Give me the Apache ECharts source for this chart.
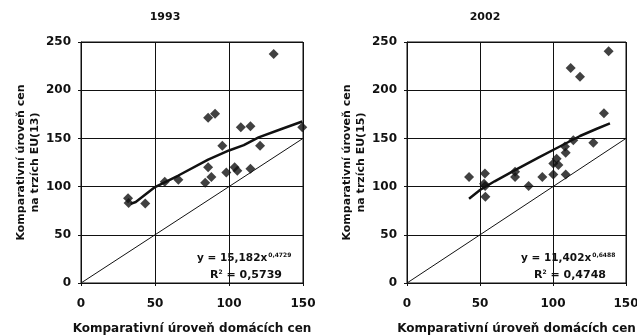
<!DOCTYPE html>
<html>
<head>
<meta charset="utf-8">
<script src="https://cdn.jsdelivr.net/npm/echarts@6/dist/echarts.min.js"></script>
<style>
  html, body { margin: 0; padding: 0; background: #fff; }
  #chart { width: 637px; height: 336px; }
</style>
</head>
<body>
<div id="chart"></div>
<script>
// 1993 - body [domácí ceny, ceny EU(13)]
var points1993 = [
  [31.8, 88], [32.2, 83], [43.4, 82.5], [56.6, 105], [65.8, 107],
  [83.9, 104], [85.9, 120], [88.1, 110], [85.9, 171.5], [90.6, 175.5],
  [95.5, 142.5], [98.2, 114.5], [103.8, 120], [105.6, 116.5], [108, 161.5],
  [114.5, 162.5], [114.5, 118.5], [121, 142.5], [130.2, 237.5], [149.5, 161.5]
]
// trend 1993
var trend1993 = [
  [33.5, 82], [37, 84], [50, 99.5], [65.8, 111.5], [85.9, 128],
  [100, 137.5], [110, 143], [120, 151], [135, 159.5], [149.5, 167.5]
]

// 2002 - body [domácí ceny, ceny EU(15)]
var points2002 = [
  [42.5, 110], [53.4, 113.5], [52.8, 103], [53.5, 100.5], [53.7, 89.5],
  [74, 115.5], [74, 110], [83.3, 100.5], [92.7, 110], [100.2, 112.5],
  [100.2, 124], [102.5, 129], [103.7, 122.5], [108.7, 112.5], [108.7, 135],
  [108.2, 141.5], [113.9, 148], [112.1, 223], [118.5, 214], [127.6, 145.5],
  [134.9, 176], [138.1, 240.5]
]
var trend2002 = [
  [42.5, 87.5], [50, 96.5], [60, 105.5], [74, 117], [90, 130],
  [100.7, 138.5], [118.5, 152.5], [130, 160], [139, 165.5]
]

var diagonal = [[0, 0], [150, 150]]

var titles = ['1993', '2002']
var yNames = ['Komparativní úroveň cen\nna trzích EU(13)', 'Komparativní úroveň cen\nna trzích EU(15)']
var xName = 'Komparativní úroveň domácích cen'
var eqs = [['15,182x', '0,4729', '0,5739'], ['11,402x', '0,6488', '0,4748']]

var font = 'DejaVu Sans'
var myChart = echarts.init(document.getElementById('chart'))

var grids = [
  { left: 81, width: 222, top: 42, height: 241 },
  { left: 407, width: 219, top: 42, height: 241 }
]

function xAxis (i) {
  return {
    type: 'value', gridIndex: i, min: 0, max: 150, interval: 50,
    name: xName, nameLocation: 'middle', nameGap: 40,
    nameTextStyle: { fontFamily: font, fontWeight: 'bold', fontSize: 12, color: '#111' },
    axisLine: { show: true, onZero: false, lineStyle: { color: '#111', width: 1 } },
    axisTick: { show: true, length: 3, lineStyle: { color: '#111' } },
    axisLabel: { fontFamily: font, fontWeight: 'bold', fontSize: 12, color: '#111', margin: 15 },
    splitLine: { show: true, lineStyle: { color: '#111', width: 1 } }
  }
}
function yAxis (i) {
  return {
    type: 'value', gridIndex: i, min: 0, max: 250, interval: 50,
    name: yNames[i], nameLocation: 'middle', nameGap: 34, nameRotate: 90,
    nameTextStyle: { fontFamily: font, fontWeight: 'bold', fontSize: 11, color: '#111', lineHeight: 14 },
    axisLine: { show: true, onZero: false, lineStyle: { color: '#111', width: 1 } },
    axisTick: { show: true, length: 3, lineStyle: { color: '#111' } },
    axisLabel: { fontFamily: font, fontWeight: 'bold', fontSize: 12, color: '#111', margin: 10 },
    splitLine: { show: true, lineStyle: { color: '#111', width: 1 } }
  }
}

function eqText (i, left) {
  return [
    {
      type: 'text', left: left, top: 252,
      style: {
        text: '{a|y = ' + eqs[i][0] + '}{s|' + eqs[i][1] + '}',
        rich: {
          a: { fontFamily: font, fontWeight: 'bold', fontSize: 10.5, fill: '#111' },
          s: { fontFamily: font, fontWeight: 'bold', fontSize: 6, fill: '#111', padding: [0, 0, 7, 1] }
        }
      }
    },
    {
      type: 'text', left: left + 13, top: 269,
      style: {
        text: '{a|R}{s|2}{a| = ' + eqs[i][2] + '}',
        rich: {
          a: { fontFamily: font, fontWeight: 'bold', fontSize: 11, fill: '#111' },
          s: { fontFamily: font, fontWeight: 'bold', fontSize: 6, fill: '#111', padding: [0, 0, 7, 0] }
        }
      }
    }
  ]
}

function series (i, pts, trend) {
  return [
    {
      type: 'line', xAxisIndex: i, yAxisIndex: i, data: diagonal, symbol: 'none',
      lineStyle: { color: '#111', width: 1 }, z: 2, silent: true
    },
    {
      type: 'line', xAxisIndex: i, yAxisIndex: i, data: trend, symbol: 'none',
      lineStyle: { color: '#111', width: 2.5 }, z: 3, silent: true
    },
    {
      type: 'scatter', xAxisIndex: i, yAxisIndex: i, data: pts, symbol: 'diamond',
      symbolSize: 10, itemStyle: { color: '#111' }, z: 4
    }
  ]
}

myChart.setOption({
  backgroundColor: '#fff',
  animation: false,
  title: [
    { text: titles[0], left: 160, top: 7, textAlign: 'center', textStyle: { fontFamily: font, fontWeight: 'bold', fontSize: 11, color: '#111' } },
    { text: titles[1], left: 480, top: 7, textAlign: 'center', textStyle: { fontFamily: font, fontWeight: 'bold', fontSize: 11, color: '#111' } }
  ],
  grid: grids.map(function (g) {
    return Object.assign({ show: true, borderColor: '#111', borderWidth: 1, containLabel: false, outerBoundsMode: 'none' }, g)
  }),
  xAxis: [xAxis(0), xAxis(1)],
  yAxis: [yAxis(0), yAxis(1)],
  series: series(0, points1993, trend1993).concat(series(1, points2002, trend2002)),
  graphic: eqText(0, 197).concat(eqText(1, 521))
})

window.onresize = function () {
  myChart.resize()
}
</script>
</body>
</html>
